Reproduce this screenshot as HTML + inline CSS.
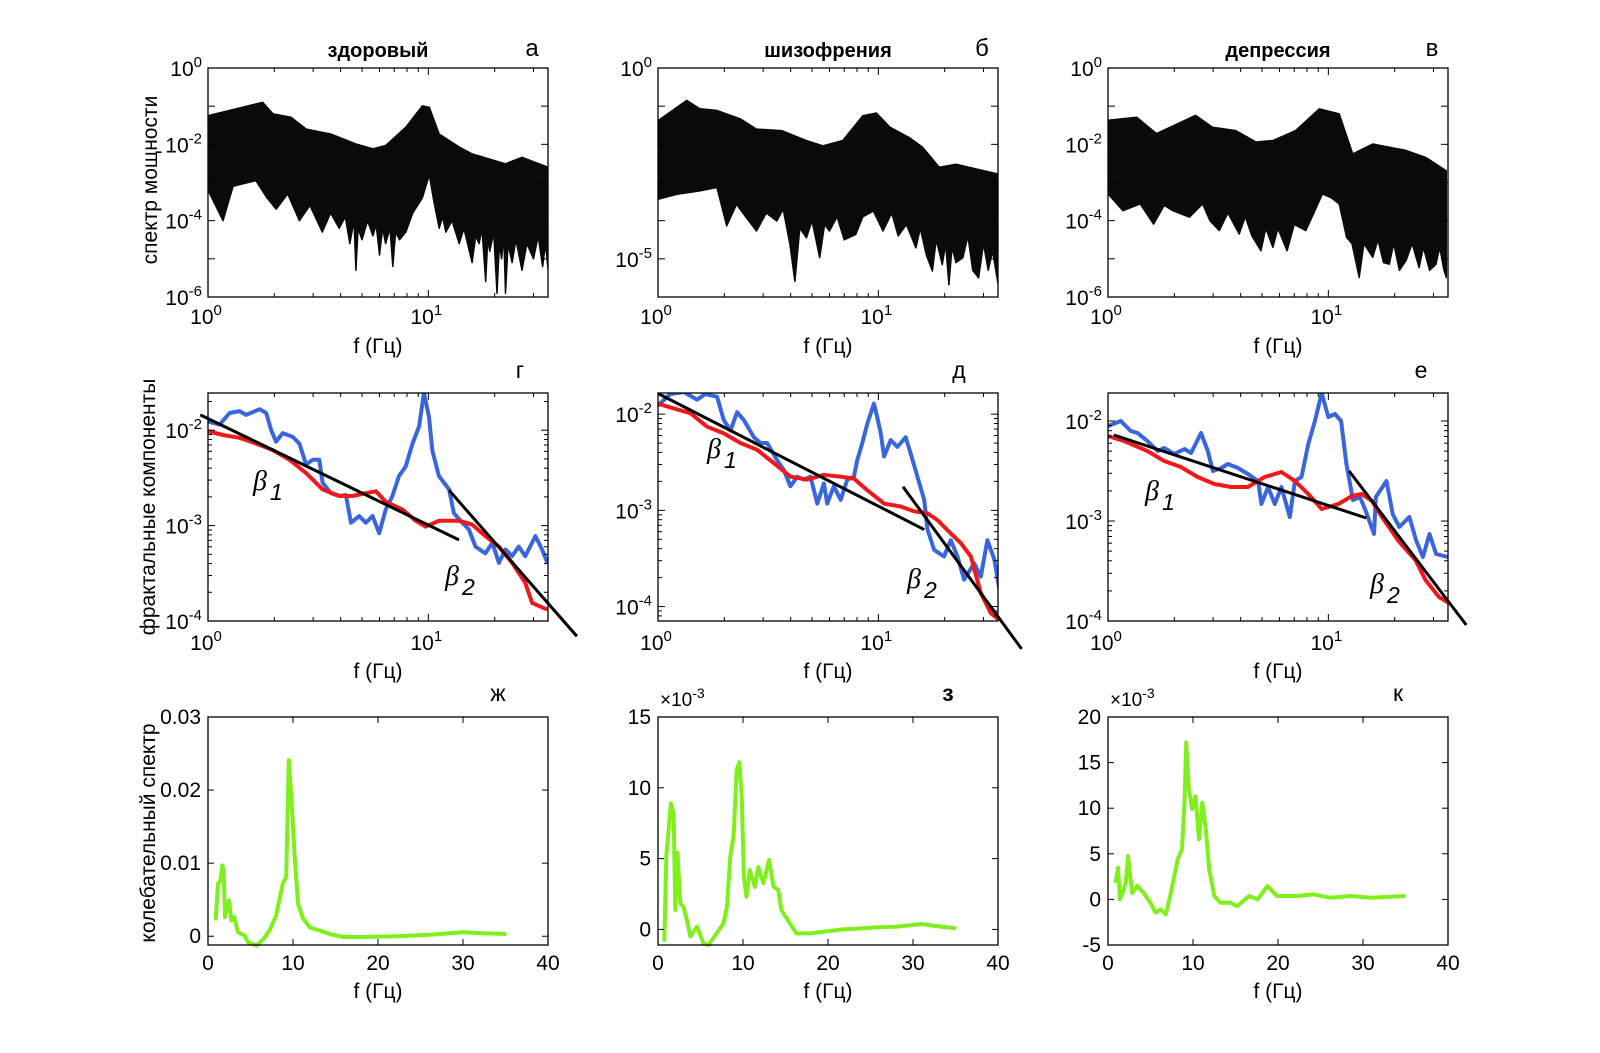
<!DOCTYPE html>
<html><head><meta charset="utf-8"><style>
html,body{margin:0;padding:0;background:#fff;}
svg{display:block;font-family:"Liberation Sans","DejaVu Sans",sans-serif;}
</style></head><body>
<svg id="fig" width="1600" height="1053" viewBox="0 0 1600 1053" xmlns="http://www.w3.org/2000/svg">
<rect x="0" y="0" width="1600" height="1053" fill="#fff"/>
</svg>
<script>
// ---------- Row 1: envelope data (freq in Hz, log10 power) ----------
const aUpF=[1,1.34,1.77,1.97,2.38,2.79,3.6,4.69,5.6,6.4,7.9,9.4,10.1,11.2,13.8,15.8,22.4,26.6,35];
const aUpV=[-1.25,-1.07,-0.9,-1.2,-1.29,-1.6,-1.73,-1.99,-2.12,-2.03,-1.55,-0.99,-1.03,-1.73,-2.07,-2.25,-2.51,-2.34,-2.6];
const aLoF=[1,1.17,1.3,1.65,1.85,2.04,2.3,2.6,2.9,3.3,3.6,3.94,4.2,4.4,4.6,4.69,4.8,5.0,5.3,5.6,5.8,6.0,6.2,6.4,6.7,6.9,7.1,7.4,7.9,8.5,9.4,10.1,10.6,11.2,11.6,12,12.8,13.8,14.5,15.8,16.4,17,17.5,18.2,18.6,19,19.8,20.5,21,21.5,22,22.4,23,24,25,26.6,28,30,31.5,33,34,35];
const aLoV=[-3.2,-4.0,-3.1,-2.95,-3.4,-3.7,-3.3,-4.0,-3.6,-4.3,-3.8,-4.2,-3.9,-4.6,-4.0,-5.3,-4.2,-4.5,-4.0,-4.4,-4.1,-4.9,-4.2,-4.6,-4.2,-5.2,-4.3,-4.5,-4.3,-3.8,-3.4,-2.8,-3.5,-4.2,-3.9,-4.3,-4.0,-4.6,-4.2,-5.1,-4.4,-4.6,-4.2,-5.6,-4.5,-4.8,-4.3,-5.9,-4.6,-5.0,-4.4,-5.9,-4.6,-5.1,-4.5,-5.3,-4.6,-5.0,-4.4,-5.2,-4.6,-5.3];
const bUpF=[1,1.35,1.55,1.85,2.36,2.8,3.64,4.7,5.6,6.9,8.5,9.8,11.3,13.8,15.9,18.9,22.5,35];
const bUpV=[-1.38,-0.85,-1.07,-1.11,-1.33,-1.6,-1.64,-1.9,-2.04,-1.9,-1.25,-1.18,-1.55,-1.82,-2.08,-2.6,-2.52,-2.78];
const bLoF=[1,1.22,1.55,1.85,2.05,2.27,2.5,2.8,3.1,3.46,3.7,3.97,4.18,4.4,4.72,5.0,5.42,5.7,6.0,6.5,7.0,7.9,8.5,9.5,10.5,11.5,12.3,13.4,14.8,15.5,16.5,17.6,18.3,19.5,20.2,20.9,21.6,22.5,24.2,25.5,26.8,28.5,30,31.5,33,35];
const bLoV=[-3.44,-3.31,-3.22,-3.13,-4.14,-3.57,-3.9,-4.27,-3.8,-4.01,-3.7,-4.62,-5.59,-4.2,-4.45,-4.0,-4.97,-4.1,-4.27,-3.9,-4.5,-4.36,-3.9,-3.75,-4.27,-3.8,-4.4,-4.1,-4.71,-4.2,-4.9,-5.32,-4.5,-5.15,-4.6,-5.68,-4.7,-5.1,-4.97,-4.4,-5.3,-5.5,-4.6,-5.3,-4.8,-5.68];
const vUpF=[1,1.35,1.66,2.5,2.98,3.8,4.7,5.6,7.1,9.1,11.2,12.9,15.9,22.5,27.6,34.3];
const vUpV=[-1.37,-1.29,-1.72,-1.24,-1.55,-1.64,-1.94,-1.9,-1.64,-1.07,-1.2,-2.25,-1.99,-2.16,-2.34,-2.69];
const vLoF=[1,1.17,1.4,1.61,1.8,1.97,2.34,2.69,2.9,3.2,3.5,3.94,4.2,4.5,4.94,5.2,5.6,5.9,6.5,7.0,7.9,8.6,9.4,10.3,11.2,12.1,12.8,13.8,14.5,15.9,16.8,17.8,18.9,19.8,21,22.5,24,25.8,27,28.8,30.8,32,33.5,34.3];
const vLoV=[-3.3,-3.74,-3.56,-4.09,-3.6,-3.74,-3.91,-3.56,-4.0,-4.26,-3.8,-4.35,-3.9,-4.4,-4.79,-4.2,-4.7,-4.2,-4.79,-4.1,-4.26,-3.8,-3.3,-3.4,-3.56,-4.44,-4.6,-5.49,-4.6,-4.96,-4.5,-5.1,-5.14,-4.6,-5.3,-5.05,-4.6,-5.23,-4.7,-5.3,-5.14,-4.7,-5.3,-5.49];

// ---------- Row 2: fractal components (log10 f, log10 value) ----------
const gBlueX=[0,.053,.098,.143,.173,.234,.264,.287,.309,.339,.385,.415,.445,.475,.505,.520,.558,.596,.626,.649,.686,.716,.747,.777,.807,.837,.867,.897,.928,.958,.980,1.003,1.018,1.048,1.071,1.094,1.116,1.154,1.184,1.214,1.259,1.290,1.320,1.350,1.380,1.410,1.440,1.486,1.516,1.540];
const gBlueY=[-1.91,-1.94,-1.82,-1.80,-1.84,-1.78,-1.82,-2.00,-2.12,-2.03,-2.07,-2.14,-2.36,-2.31,-2.31,-2.55,-2.66,-2.69,-2.68,-2.97,-2.90,-2.97,-2.90,-3.08,-2.83,-2.69,-2.48,-2.38,-2.14,-1.96,-1.61,-1.86,-2.21,-2.48,-2.55,-2.62,-2.87,-2.97,-3.04,-3.22,-3.29,-3.18,-3.39,-3.25,-3.32,-3.22,-3.32,-3.11,-3.25,-3.39];
const gRedX=[0,.068,.143,.219,.294,.370,.445,.520,.596,.656,.716,.762,.807,.882,.943,.988,1.048,1.139,1.199,1.259,1.320,1.380,1.440,1.471,1.540];
const gRedY=[-2.01,-2.05,-2.08,-2.14,-2.21,-2.31,-2.45,-2.62,-2.69,-2.69,-2.66,-2.64,-2.75,-2.83,-2.95,-3.01,-2.95,-2.95,-2.99,-3.11,-3.22,-3.39,-3.60,-3.81,-3.88];
const gFit1X=[-0.035,1.139], gFit1Y=[-1.84,-3.15];
const gFit2X=[1.094,1.674], gFit2Y=[-2.63,-4.16];

const dBlueX=[0,.056,.117,.177,.215,.268,.298,.329,.359,.389,.435,.465,.495,.541,.571,.601,.632,.662,.692,.723,.753,.768,.798,.829,.859,.889,.904,.927,.950,.980,.995,1.011,1.026,1.056,1.086,1.124,1.147,1.177,1.208,1.223,1.253,1.298,1.329,1.359,1.389,1.435,1.465,1.495,1.526,1.550];
const dBlueY=[-1.91,-1.79,-1.77,-1.85,-1.79,-1.82,-2.06,-2.17,-1.98,-2.06,-2.24,-2.30,-2.30,-2.48,-2.58,-2.75,-2.65,-2.68,-2.65,-2.93,-2.72,-2.93,-2.75,-2.89,-2.68,-2.65,-2.48,-2.30,-2.10,-1.89,-2.03,-2.20,-2.44,-2.27,-2.34,-2.24,-2.41,-2.65,-2.89,-3.20,-3.41,-3.48,-3.31,-3.48,-3.72,-3.55,-3.69,-3.31,-3.51,-3.83];
const dRedX=[0,.071,.147,.223,.299,.374,.450,.526,.601,.677,.753,.829,.889,.950,1.026,1.101,1.162,1.223,1.268,1.329,1.374,1.420,1.465,1.511,1.550];
const dRedY=[-1.89,-1.94,-1.99,-2.13,-2.20,-2.30,-2.37,-2.51,-2.65,-2.68,-2.63,-2.65,-2.67,-2.79,-2.93,-2.96,-3.01,-3.03,-3.10,-3.24,-3.34,-3.48,-3.86,-4.07,-4.14];
const dFit1X=[0,1.208], dFit1Y=[-1.785,-3.20];
const dFit2X=[1.112,1.650], dFit2Y=[-2.754,-4.44];

const eBlueX=[0,.058,.103,.134,.179,.225,.255,.301,.347,.377,.422,.453,.476,.514,.544,.590,.635,.681,.696,.726,.757,.787,.825,.848,.878,.909,.939,.970,1.0,1.030,1.058,1.082,1.112,1.143,1.168,1.207,1.216,1.264,1.292,1.322,1.368,1.398,1.429,1.459,1.489,1.541];
const eBlueY=[-2.05,-2.0,-2.10,-2.12,-2.20,-2.30,-2.27,-2.33,-2.28,-2.32,-2.12,-2.30,-2.50,-2.47,-2.43,-2.47,-2.53,-2.60,-2.83,-2.66,-2.83,-2.66,-2.96,-2.60,-2.56,-2.23,-2.0,-1.72,-1.96,-1.93,-2.0,-2.43,-2.79,-2.76,-2.89,-3.13,-2.76,-2.60,-2.93,-3.06,-2.96,-3.19,-3.36,-3.13,-3.33,-3.36];
const eRedX=[0,.073,.179,.255,.331,.407,.483,.559,.635,.711,.787,.848,.909,.970,1.046,1.107,1.152,1.198,1.243,1.319,1.395,1.441,1.502,1.555];
const eRedY=[-2.15,-2.20,-2.30,-2.40,-2.46,-2.56,-2.63,-2.66,-2.66,-2.56,-2.51,-2.60,-2.73,-2.88,-2.83,-2.75,-2.73,-2.80,-2.96,-3.20,-3.39,-3.59,-3.76,-3.83];
const eFit1X=[0.027,1.172], eFit1Y=[-2.14,-2.97];
const eFit2X=[1.094,1.626], eFit2Y=[-2.50,-4.04];

// ---------- Row 3: oscillatory spectrum (Hz, value ×1e-3) ----------
const zhF=[0.9,1.18,1.45,1.69,1.85,2.0,2.47,2.75,3.1,3.5,4.3,4.7,5.7,6.5,7.25,8.0,8.8,9.2,9.5,9.8,10.2,10.6,11.2,12,13.1,14.3,15.9,18.2,22.2,26.1,30,32.4,35.1];
const zhV=[2.15,7.2,7.6,9.7,9.0,2.6,4.9,2.15,2.6,0.55,0.1,-0.8,-1.3,-0.4,0.8,2.8,7.2,8.1,24.1,19.1,10.9,4.4,2.4,1.2,0.8,0.3,-0.1,-0.1,0,0.2,0.55,0.4,0.3];
const zF=[0.74,0.98,1.25,1.52,1.84,2.03,2.3,2.62,3.0,3.4,3.8,4.6,5.35,5.94,6.9,7.7,8.1,8.5,8.9,9.26,9.58,9.85,10.1,10.4,10.8,11.4,11.8,12.4,13.06,13.6,14.15,14.5,15.5,16.3,17.9,19.4,21.8,23.3,25.7,28.0,31.0,32.7,35.1];
const zV=[-0.87,5.15,7.0,8.9,8.2,1.37,5.4,1.84,1.6,0.66,-0.5,0.2,-1.0,-1.1,-0.28,0.43,1.6,5.15,6.6,11.3,11.8,9.4,3.7,2.3,4.2,3.0,4.4,3.26,4.9,3.0,2.8,1.37,0.43,-0.28,-0.28,-0.17,0,0.05,0.14,0.19,0.38,0.24,0.07];
const kF=[0.9,1.18,1.41,1.7,2.1,2.35,2.6,2.86,3.45,4.2,5.0,5.6,6.2,6.8,7.4,8.2,8.7,9.0,9.2,9.5,9.9,10.3,10.7,11.1,11.5,11.9,12.5,13.25,14.4,15.2,16.6,17.6,18.75,19.9,22.3,24.2,26.2,28.5,30.9,35];
const kV=[1.8,3.5,0,0.7,1.8,4.75,2.6,0.7,1.5,0.7,-0.37,-1.46,-1.1,-1.65,0.73,4.4,5.5,10.6,17.2,12.1,9.9,11.3,6.6,10.6,7.7,3.3,0.37,-0.37,-0.37,-0.73,0.37,0,1.46,0.37,0.37,0.55,0.18,0.37,0.18,0.37];

// ---------- drawing ----------
const NS='http://www.w3.org/2000/svg';
const svg=document.getElementById('fig');
function el(tag,attrs,parent){const e=document.createElementNS(NS,tag);for(const k in attrs)e.setAttribute(k,attrs[k]);(parent||svg).appendChild(e);return e;}
function mkAxis(x0,y0,w,h,xmin,xmax,ymin,ymax){
  return {x0,y0,w,h,sx:v=>x0+(v-xmin)/(xmax-xmin)*w,sy:v=>y0+h-(v-ymin)/(ymax-ymin)*h,xmin,xmax,ymin,ymax};
}
function pathD(ax,xs,ys){return xs.map((v,i)=>(i?'L':'M')+ax.sx(v).toFixed(1)+','+ax.sy(ys[i]).toFixed(1)).join('');}
let clipN=0;
function clip(ax){const id='c'+(clipN++);const cp=el('clipPath',{id});el('rect',{x:ax.x0,y:ax.y0,width:ax.w,height:ax.h},cp);return 'url(#'+id+')';}
function box(ax,name){const r=el('rect',{x:ax.x0,y:ax.y0,width:ax.w,height:ax.h,fill:'none',stroke:'#000','stroke-width':1.3});

}
function tickLine(x1,y1,x2,y2){el('line',{x1,y1,x2,y2,stroke:'#000','stroke-width':1});}
function powLabel(x,y,exp,anchor,name){
  const t=el('text',{x,y,'font-size':21,'text-anchor':anchor,fill:'#000'});
  
  
  t.appendChild(document.createTextNode('10'));
  const s=el('tspan',{dy:-9,'font-size':15},t);s.textContent=exp;
  return t;
}
function text(x,y,str,opts,name){
  const t=el('text',Object.assign({x,y,'font-size':21,fill:'#000'},opts||{}));
  t.textContent=str;
  
  
  return t;
}
function logXAxis(ax,pref,labelY){
  for(let d=0;d<=1;d++){for(let m=1;m<=9;m++){const lv=d+Math.log10(m);if(lv>ax.xmax)break;const x=ax.sx(lv);const L=m===1?7:4;
    tickLine(x,ax.y0+ax.h,x,ax.y0+ax.h-L);tickLine(x,ax.y0,x,ax.y0+L);}}
  for(let d=0;d<=1;d++){powLabel(ax.sx(d)-2,labelY,String(d),'middle',pref+'-x-tick-'+d);}
}
function logYAxis(ax,pref,labels,minor){
  for(let d=Math.ceil(ax.ymin);d<=Math.floor(ax.ymax);d++){const y=ax.sy(d);
    tickLine(ax.x0,y,ax.x0+7,y);tickLine(ax.x0+ax.w,y,ax.x0+ax.w-7,y);}
  if(minor){for(let d=Math.floor(ax.ymin);d<=Math.ceil(ax.ymax);d++){for(let m=2;m<=9;m++){const lv=d+Math.log10(m);if(lv<ax.ymin||lv>ax.ymax)continue;const y=ax.sy(lv);
    tickLine(ax.x0,y,ax.x0+4,y);tickLine(ax.x0+ax.w,y,ax.x0+ax.w-4,y);}}}
  labels.forEach(d=>{powLabel(ax.x0-6,ax.sy(d)+8,String(d),'end',pref+'-y-tick-'+d);});
}

const colX=[208,658,1108], W=340;
// Row 1
const r1=[
 {up:[aUpF,aUpV],lo:[aLoF,aLoV],title:'здоровый',letter:'а',yl:[0,-2,-4,-6]},
 {up:[bUpF,bUpV],lo:[bLoF,bLoV],title:'шизофрения',letter:'б',yl:[0,-5]},
 {up:[vUpF,vUpV],lo:[vLoF,vLoV],title:'депрессия',letter:'в',yl:[0,-2,-4,-6]}];
r1.forEach((p,i)=>{
  const ax=mkAxis(colX[i],68,W,229,0,1.543,-6,0);
  const pts=[];
  p.up[0].forEach((f,j)=>pts.push(ax.sx(Math.log10(f)).toFixed(1)+','+ax.sy(p.up[1][j]).toFixed(1)));
  for(let j=p.lo[0].length-1;j>=0;j--)pts.push(ax.sx(Math.log10(p.lo[0][j])).toFixed(1)+','+ax.sy(p.lo[1][j]).toFixed(1));
  const poly=el('polygon',{points:pts.join(' '),fill:'#0a0a0a',stroke:'#0a0a0a','stroke-width':1.5,'stroke-linejoin':'round','clip-path':clip(ax)});
  
  
  box(ax,'power-spectrum-axes-'+(i+1));
  logXAxis(ax,'r1-'+(i+1),324);
  logYAxis(ax,'r1-'+(i+1),p.yl,false);
  text(ax.x0+W/2,57,p.title,{'font-weight':'bold','font-size':20,'text-anchor':'middle'},'panel-title-'+(i+1));
  text(ax.x0+W-16,56,p.letter,{'font-size':24,'text-anchor':'middle'},'panel-letter-'+p.letter);
  text(ax.x0+W/2,353,'f (Гц)',{'text-anchor':'middle'},'x-axis-title-r1-'+(i+1));
});
text(0,0,'спектр мощности',{'text-anchor':'middle',transform:'translate(157,180) rotate(-90)'},'y-axis-title-power-spectrum');

// Row 2
const r2=[
 {ymin:-4,ymax:-1.61,b:[gBlueX,gBlueY],r:[gRedX,gRedY],f1:[gFit1X,gFit1Y],f2:[gFit2X,gFit2Y],letter:'г',lx:520,b1:[253,490],b2:[445,585]},
 {ymin:-4.15,ymax:-1.78,b:[dBlueX,dBlueY],r:[dRedX,dRedY],f1:[dFit1X,dFit1Y],f2:[dFit2X,dFit2Y],letter:'д',lx:959,b1:[707,458],b2:[907,588]},
 {ymin:-4,ymax:-1.72,b:[eBlueX,eBlueY],r:[eRedX,eRedY],f1:[eFit1X,eFit1Y],f2:[eFit2X,eFit2Y],letter:'е',lx:1421,b1:[1145,500],b2:[1370,593]}];
r2.forEach((p,i)=>{
  const ax=mkAxis(colX[i],393,W,228,0,1.543,p.ymin,p.ymax);
  const cp=clip(ax);
  const bl=el('path',{d:pathD(ax,p.b[0],p.b[1]),fill:'none',stroke:'#3a66dd','stroke-width':4,'stroke-linejoin':'round','clip-path':cp});
  
  
  const rl=el('path',{d:pathD(ax,p.r[0],p.r[1]),fill:'none',stroke:'#f01818','stroke-width':4,'stroke-linejoin':'round','clip-path':cp});
  
  
  const l1=el('path',{d:pathD(ax,p.f1[0],p.f1[1]),stroke:'#000','stroke-width':3,fill:'none'});
  
  
  const l2=el('path',{d:pathD(ax,p.f2[0],p.f2[1]),stroke:'#000','stroke-width':3,fill:'none'});
  
  
  box(ax,'fractal-axes-'+(i+1));
  logXAxis(ax,'r2-'+(i+1),650);
  logYAxis(ax,'r2-'+(i+1),[-2,-3,-4],true);
  text(p.lx,378,p.letter,{'font-size':23,'text-anchor':'middle'},'panel-letter-'+p.letter);
  text(ax.x0+W/2,678,'f (Гц)',{'text-anchor':'middle'},'x-axis-title-r2-'+(i+1));
  text(p.b1[0],p.b1[1],'β',{'font-size':28,'font-style':'italic','font-family':'Liberation Serif, serif'},'beta1-label-'+(i+1));
  text(p.b1[0]+17,p.b1[1]+10,'1',{'font-size':23,'font-style':'italic'},'beta1-subscript-'+(i+1));
  text(p.b2[0],p.b2[1],'β',{'font-size':28,'font-style':'italic','font-family':'Liberation Serif, serif'},'beta2-label-'+(i+1));
  text(p.b2[0]+17,p.b2[1]+10,'2',{'font-size':23,'font-style':'italic'},'beta2-subscript-'+(i+1));
});
text(0,0,'фрактальные компоненты',{'text-anchor':'middle',transform:'translate(155,507) rotate(-90)'},'y-axis-title-fractal');

// Row 3
const r3=[
 {f:zhF,v:zhV,ymin:-1.2,ymax:30,ticks:[0,10,20,30],lab:['0','0.01','0.02','0.03'],letter:'ж',bold:false,exp:false},
 {f:zF,v:zV,ymin:-1.1,ymax:15,ticks:[0,5,10,15],lab:['0','5','10','15'],letter:'з',bold:true,exp:true},
 {f:kF,v:kV,ymin:-5,ymax:20,ticks:[-5,0,5,10,15,20],lab:['-5','0','5','10','15','20'],letter:'к',bold:false,exp:true}];
const xTicks3=[0,10,20,30,40];
r3.forEach((p,i)=>{
  const ax=mkAxis(colX[i],717,W,228,0,40,p.ymin,p.ymax);
  const gl=el('path',{d:pathD(ax,p.f,p.v),fill:'none',stroke:'#7ff01c','stroke-width':4,'stroke-linejoin':'round'});
  
  
  box(ax,'oscillatory-axes-'+(i+1));
  xTicks3.forEach(t=>{const x=ax.sx(t);tickLine(x,ax.y0+ax.h,x,ax.y0+ax.h-6);tickLine(x,ax.y0,x,ax.y0+6);
    text(x,970,String(t),{'text-anchor':'middle'},'r3-'+(i+1)+'-x-tick-'+t);});
  p.ticks.forEach((t,j)=>{const y=ax.sy(t);tickLine(ax.x0,y,ax.x0+6,y);tickLine(ax.x0+W,y,ax.x0+W-6,y);
    text(ax.x0-7,y+7,p.lab[j],{'text-anchor':'end'},'r3-'+(i+1)+'-y-tick-'+p.lab[j]);});
  if(p.exp){const t=text(ax.x0+2,706,'×10',{'font-size':19},'exponent-label-'+(i+1));const s=el('tspan',{dy:-8,'font-size':14},t);s.textContent='-3';}
  text(ax.x0+W-50,701,p.letter,{'font-size':23,'text-anchor':'middle','font-weight':p.bold?'bold':'normal'},'panel-letter-'+p.letter);
  text(ax.x0+W/2,998,'f (Гц)',{'text-anchor':'middle'},'x-axis-title-r3-'+(i+1));
});
text(0,0,'колебательный спектр',{'text-anchor':'middle',transform:'translate(155,833) rotate(-90)'},'y-axis-title-oscillatory');
</script>
</body></html>
